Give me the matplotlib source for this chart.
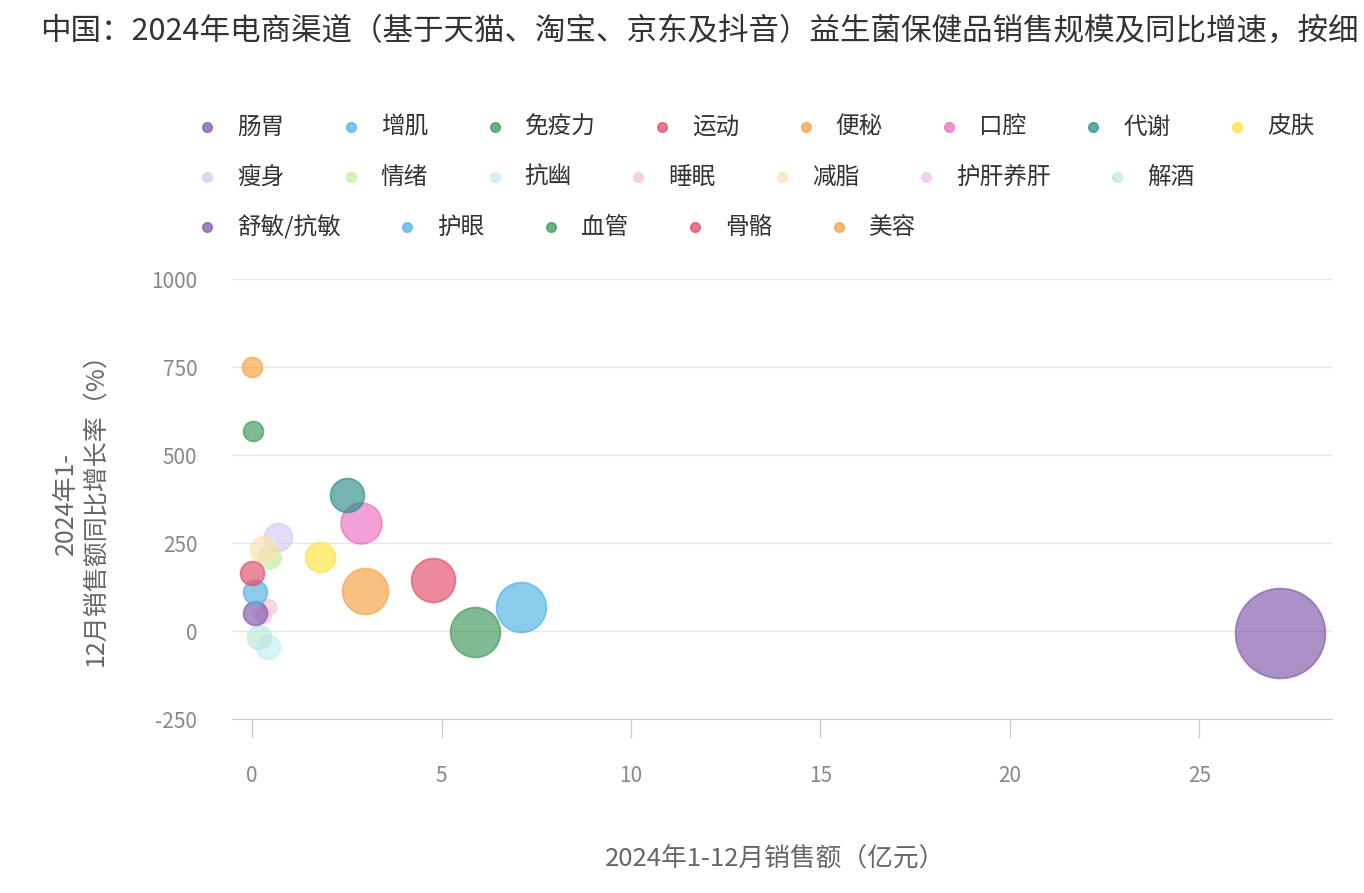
import matplotlib
matplotlib.use("Agg")
import matplotlib.pyplot as plt
import numpy as np

plt.rcParams['font.family'] = ['Noto Sans CJK SC', 'DejaVu Sans']
plt.rcParams['axes.unicode_minus'] = False

# ---- data ----
categories = ['肠胃', '增肌', '免疫力', '运动', '便秘', '口腔', '代谢', '皮肤',
              '瘦身', '情绪', '抗幽', '睡眠', '减脂', '护肝养肝', '解酒',
              '舒敏/抗敏', '护眼', '血管', '骨骼', '美容']
sales = [27.14, 7.10, 5.89, 4.78, 2.98, 2.88, 2.51, 1.80,
         0.69, 0.45, 0.42, 0.42, 0.29, 0.30, 0.18,
         0.08, 0.08, 0.02, 0.0, 0.0]          # 亿元
growth = [-6, 68, -3, 145, 114, 307, 386, 210,
          267, 210, -45, 68, 233, 45, -17,
          51, 111, 568, 165, 750]               # %
bubble_size = [20.25, 6.25, 6.25, 4.84, 5.29, 4.2, 2.89, 2.25,
               1.96, 1.32, 1.44, 0.64, 1.69, 0.64, 1.44,
               1.44, 1.44, 1.0, 1.44, 1.0]

colors = ['#7e57a8', '#4db1e4', '#3a9659', '#e04b68', '#f5a13d', '#ec6dbf', '#2a8c88', '#fce43c',
          '#d5c9f5', '#c2eea0', '#c6ebf5', '#f9c3ca', '#fbe1ad', '#f4c2f0', '#b9eada',
          '#7e57a8', '#4db1e4', '#3a9659', '#e04b68', '#f5a13d']
legend_rows = [8, 7, 5]

W, H = 1364, 893
fig = plt.figure(figsize=(W / 100, H / 100), dpi=100)

# main plot area
ax = fig.add_axes([232 / W, 1 - 719 / H, 1100 / W, 440 / H])
for i in range(len(categories)):
    ax.scatter(sales[i], growth[i], s=bubble_size[i] * 207, color=colors[i], alpha=0.65,
               edgecolors=colors[i], linewidths=1.2, zorder=3 + i * 0.01)

ax.set_xlim(-0.53, 28.5)
ax.set_ylim(-250, 1000)
ax.set_yticks([-250, 0, 250, 500, 750, 1000])
ax.set_xticks([0, 5, 10, 15, 20, 25])
ax.grid(axis='y', color='#e6e6e6', linewidth=1)
ax.set_axisbelow(True)
for side in ['top', 'right', 'left']:
    ax.spines[side].set_visible(False)
ax.spines['bottom'].set_color('#cccccc')
ax.tick_params(axis='y', length=0, pad=25, labelsize=15, labelcolor='#888888')
ax.tick_params(axis='x', length=14, width=1, color='#cccccc', pad=19,
               labelsize=15, labelcolor='#888888')

ax.set_xlabel('2024年1-12月销售额（亿元）', fontsize=18.5, color='#666666')
ax.xaxis.set_label_coords(0.494, -0.288)
ax.set_ylabel('2024年1-\n12月销售额同比增长率（%）', fontsize=18, color='#666666',
              multialignment='center', linespacing=1.2)
ax.yaxis.set_label_coords(-0.112, 0.49)

# title, as far as the original shows it
fig.text(40 / W, 1 - 31 / H,
         '中国：2024年电商渠道（基于天猫、淘宝、京东及抖音）益生菌保健品销售规模及同比增速，按细',
         fontsize=22, color='#333333', ha='left', va='center')

# legend laid out as a flow, in pixel coordinates
lax = fig.add_axes([0, 0, 1, 1], zorder=-1)
lax.set_xlim(0, W)
lax.set_ylim(H, 0)
lax.axis('off')
renderer = fig.canvas.get_renderer()
idx = 0
for row, n in enumerate(legend_rows):
    y = 127 + row * 50
    x = 207
    for _ in range(n):
        lax.plot(x, y, 'o', markersize=7, color=colors[idx], alpha=0.75,
                 markeredgecolor=colors[idx], markeredgewidth=1)
        t = lax.text(x + 30, y, categories[idx], fontsize=17, color='#333333',
                     ha='left', va='center')
        w = t.get_window_extent(renderer).width
        x = x + 30 + w + 66.5
        idx += 1

fig.savefig('out.png', dpi=100)
